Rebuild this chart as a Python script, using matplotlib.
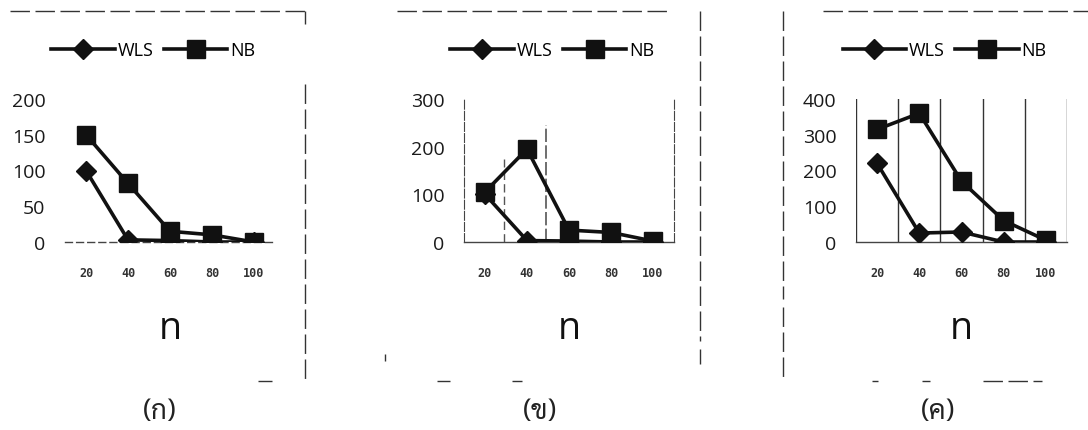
import matplotlib
matplotlib.use("Agg")
import matplotlib.pyplot as plt
from matplotlib import font_manager

# ค่าจากภาพ
n_values = [20, 40, 60, 80, 100]
x_ticklabels = ["20", "40", "60", "80", "100"]

wls_a = [100, 3, 2, 0, 0]
nb_a = [150, 82, 15, 10, 0]

wls_b = [100, 3, 2, 0, 0]
nb_b = [105, 195, 25, 20, 2]

wls_c = [220, 25, 28, 0, 0]
nb_c = [315, 360, 170, 60, 5]

y_ticks_a = [0, 50, 100, 150, 200]
y_ticks_b = [0, 100, 200, 300]
y_ticks_c = [0, 100, 200, 300, 400]

panel_labels = ["(ก)", "(ข)", "(ค)"]

# pick a Thai font that is actually installed
names = set(f.name for f in font_manager.fontManager.ttflist)
thai_font = "DejaVu Sans"
for cand in ["Sarabun", "Noto Serif Thai", "Noto Sans Thai Looped", "Noto Sans Thai", "Athiti"]:
    if cand in names:
        thai_font = cand
        break

main_font = "Open Sans"
ink = "#111111"

fig = plt.figure(figsize=(10.88, 4.31), dpi=100)
W, H = 1088.0, 431.0

def px_axes(left, right, top, bottom):
    return fig.add_axes([left / W, 1 - bottom / H, (right - left) / W, (bottom - top) / H])

def draw_panel(ax, wls, nb, yticks, style):
    x = list(range(len(n_values)))
    ax.plot(x, wls, color=ink, lw=2.6, marker="D", markersize=10, label="WLS", zorder=3)
    ax.plot(x, nb, color=ink, lw=2.6, marker="s", markersize=13, label="NB", zorder=4)
    ax.set_xlim(-0.5, len(n_values) - 0.5)
    ax.set_ylim(0, yticks[-1])
    ax.set_yticks(yticks)
    ax.set_yticklabels([str(v) for v in yticks], fontsize=14, fontfamily=main_font, color="#1a1a1a")
    ax.set_xticks(x)
    ax.set_xticklabels(x_ticklabels, fontsize=8.5, fontfamily="DejaVu Sans Mono", fontweight="bold", color="#333333")
    ax.tick_params(axis="y", length=0, pad=14)
    ax.tick_params(axis="x", length=0, pad=17)
    ax.set_xlabel("n", fontsize=27, fontfamily=main_font, labelpad=22, color="#111111")
    for s in ax.spines.values():
        s.set_visible(False)
    ax.spines["bottom"].set_visible(True)
    ax.spines["bottom"].set_color("#444444")
    ax.spines["bottom"].set_linewidth(1.0)
    if style == "a":
        ax.spines["bottom"].set_linestyle((0, (5, 3)))
    elif style == "b":
        for side in ["left", "right"]:
            ax.spines[side].set_visible(True)
            ax.spines[side].set_color("#444444")
            ax.spines[side].set_linestyle((0, (8, 2)))
        ax.axvline(0.45, color="#555555", lw=1.0, ls=(0, (6, 3)), ymax=0.58, zorder=1)
        ax.axvline(1.45, color="#555555", lw=1.2, ls=(0, (8, 2)), ymax=0.82, zorder=1)
    elif style == "c":
        for b in [-0.5, 0.5, 1.5, 2.5, 3.5, 4.5]:
            ax.axvline(b, color="#333333", lw=1.0, zorder=1)
    ax.legend(loc="center", bbox_to_anchor=(0.42, 1.34), ncol=2, frameon=False,
              handlelength=3.5, handletextpad=0.15, columnspacing=0.6,
              prop={"family": main_font, "size": 13})
    return ax

ax1 = px_axes(65, 275, 100, 243)
draw_panel(ax1, wls_a, nb_a, y_ticks_a, "a")
ax2 = px_axes(464, 674, 100, 243)
draw_panel(ax2, wls_b, nb_b, y_ticks_b, "b")
ax3 = px_axes(856, 1067, 100, 243)
draw_panel(ax3, wls_c, nb_c, y_ticks_c, "c")

# เลขกำกับรูป
for xc, lab in zip([160, 540, 938], panel_labels):
    fig.text(xc / W, 1 - 412 / H, lab, ha="center", va="center",
             fontsize=20, fontfamily=thai_font, color="#222222")

# broken chart-area borders left over from the scan
frame_kw = dict(color="#333333", lw=1.0, ls=(0, (14, 4)), transform=fig.transFigure)
def seg(x0, y0, x1, y1):
    fig.add_artist(plt.Line2D([x0 / W, x1 / W], [1 - y0 / H, 1 - y1 / H], **frame_kw))

seg(10, 12, 305, 12)
seg(305, 12, 305, 25)
seg(305, 85, 305, 385)
seg(258, 382, 272, 382)
seg(397, 12, 668, 12)
seg(700, 12, 700, 342)
seg(700, 350, 700, 365)
seg(385, 355, 385, 362)
seg(437, 382, 450, 382)
seg(512, 382, 522, 382)
seg(783, 12, 783, 300)
seg(783, 308, 783, 380)
seg(823, 12, 1088, 12)
seg(872, 382, 878, 382)
seg(922, 382, 930, 382)
seg(983, 382, 1042, 382)

fig.savefig("out.png", dpi=100)
